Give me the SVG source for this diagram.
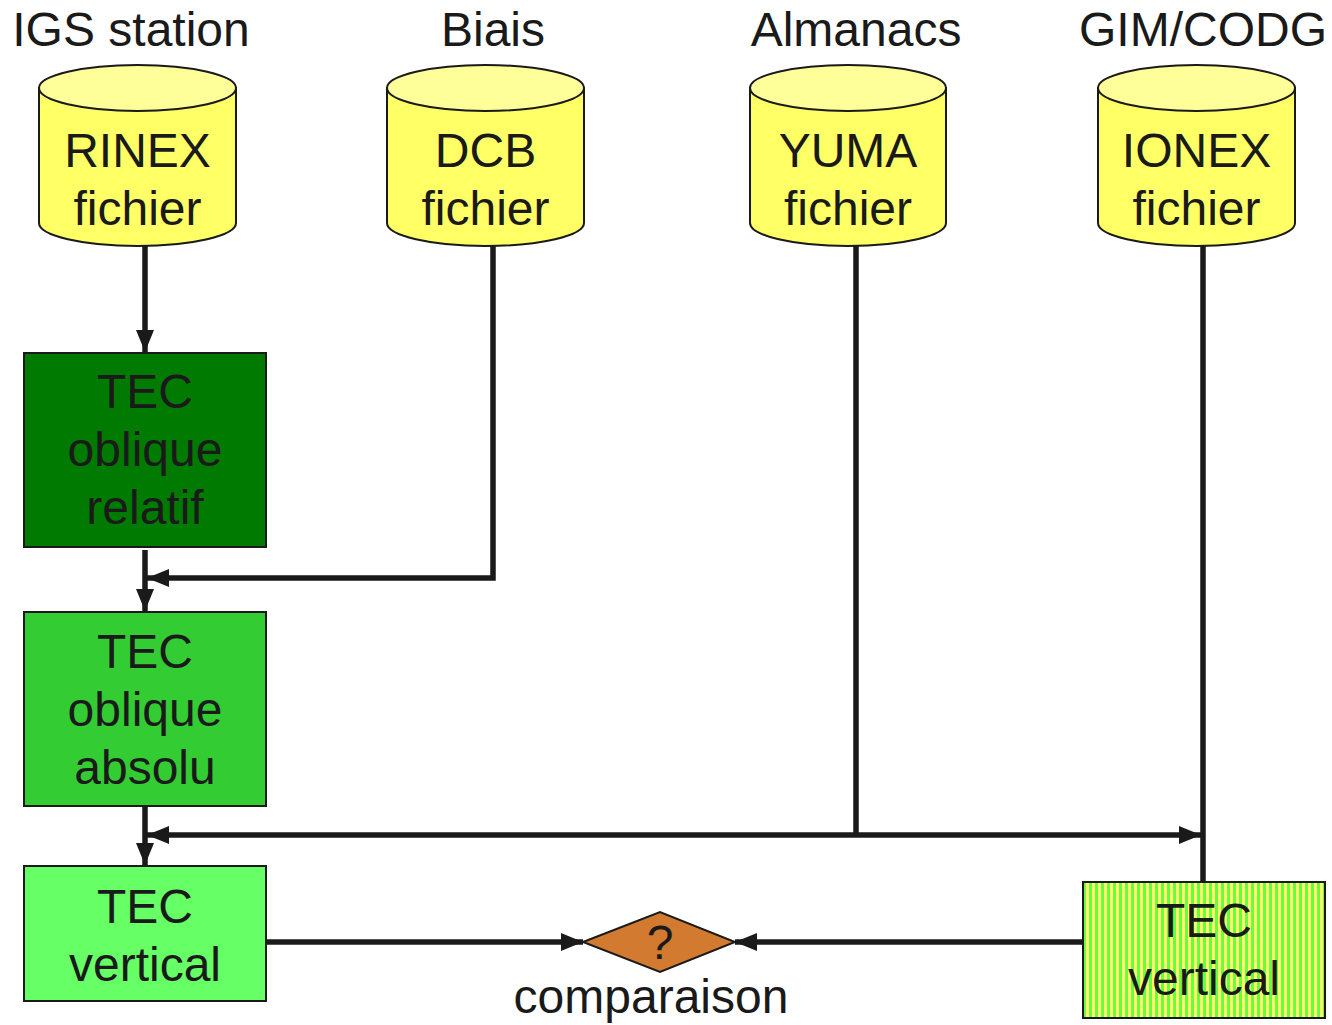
<svg xmlns="http://www.w3.org/2000/svg" width="1332" height="1025" viewBox="0 0 1332 1025">
<style>
text{font-family:"Liberation Sans",Arial,sans-serif;font-size:48px;fill:#1a1a1a;text-anchor:middle}
.cyl{fill:#ffff66;stroke:#1a1a1a;stroke-width:2}
.top{fill:#ffff99;stroke:#1a1a1a;stroke-width:2}
.box{stroke:#1a1a1a;stroke-width:2}
.ln{fill:none;stroke:#1a1a1a;stroke-width:5.5}
</style>
<defs>
<marker id="ah" markerUnits="userSpaceOnUse" markerWidth="22" markerHeight="18" refX="22" refY="9" orient="auto">
<path d="M0,0 L22,9 L0,18 Z" fill="#1a1a1a"/>
</marker>
<pattern id="stripes" patternUnits="userSpaceOnUse" width="6" height="10">
<rect width="6" height="10" fill="#66ff44"/>
<rect width="3" height="10" fill="#ffff66"/>
</pattern>
</defs>

<g id="connectors">
<path class="ln" d="M145,246 V352" marker-end="url(#ah)"/>
<path class="ln" d="M145,550 V611" marker-end="url(#ah)"/>
<path class="ln" d="M493,246 V578 H147" marker-end="url(#ah)"/>
<path class="ln" d="M145,806 V865" marker-end="url(#ah)"/>
<path class="ln" d="M856,246 V835"/>
<path class="ln" d="M856,835 H147" marker-end="url(#ah)"/>
<path class="ln" d="M856,835 H1201" marker-end="url(#ah)"/>
<path class="ln" d="M1203,246 V882"/>
<path class="ln" d="M266,942 H583" marker-end="url(#ah)"/>
<path class="ln" d="M1083,942 H735" marker-end="url(#ah)"/>
</g>

<g id="rinex">
<text x="131" y="46">IGS station</text>
<path class="cyl" d="M39,88 V223 A98.5,23 0 0 0 236,223 V88 Z"/>
<ellipse class="top" cx="137.5" cy="88" rx="98.5" ry="23"/>
<text x="137.5" y="167">RINEX</text>
<text x="137.5" y="225">fichier</text>
</g>
<g id="dcb">
<text x="493" y="46">Biais</text>
<path class="cyl" d="M387,88 V223 A98.5,23 0 0 0 584,223 V88 Z"/>
<ellipse class="top" cx="485.5" cy="88" rx="98.5" ry="23"/>
<text x="485.5" y="167">DCB</text>
<text x="485.5" y="225">fichier</text>
</g>
<g id="yuma">
<text x="856" y="46">Almanacs</text>
<path class="cyl" d="M750,88 V223 A98,23 0 0 0 946,223 V88 Z"/>
<ellipse class="top" cx="848" cy="88" rx="98" ry="23"/>
<text x="848" y="167">YUMA</text>
<text x="848" y="225">fichier</text>
</g>
<g id="ionex">
<text x="1203" y="46">GIM/CODG</text>
<path class="cyl" d="M1098,88 V223 A98.5,23 0 0 0 1295,223 V88 Z"/>
<ellipse class="top" cx="1196.5" cy="88" rx="98.5" ry="23"/>
<text x="1196.5" y="167">IONEX</text>
<text x="1196.5" y="225">fichier</text>
</g>

<g id="tec-relatif">
<rect class="box" x="24" y="353" width="242" height="194" fill="#007a00"/>
<text x="145" y="408">TEC</text>
<text x="145" y="466">oblique</text>
<text x="145" y="524">relatif</text>
</g>
<g id="tec-absolu">
<rect class="box" x="24" y="612" width="242" height="194" fill="#33cc33"/>
<text x="145" y="668">TEC</text>
<text x="145" y="726">oblique</text>
<text x="145" y="784">absolu</text>
</g>
<g id="tec-vertical">
<rect class="box" x="24" y="866" width="242" height="135" fill="#66ff66"/>
<text x="145" y="923">TEC</text>
<text x="145" y="981">vertical</text>
</g>
<g id="tec-vertical-gim">
<rect class="box" x="1083" y="882" width="242" height="136" fill="url(#stripes)"/>
<text x="1204" y="937">TEC</text>
<text x="1204" y="995">vertical</text>
</g>
<g id="comparaison">
<polygon points="583,942 660,912 735,942 660,972" fill="#d27a30" stroke="#1a1a1a" stroke-width="2"/>
<text x="660" y="959">?</text>
<text x="651" y="1013">comparaison</text>
</g>
</svg>
